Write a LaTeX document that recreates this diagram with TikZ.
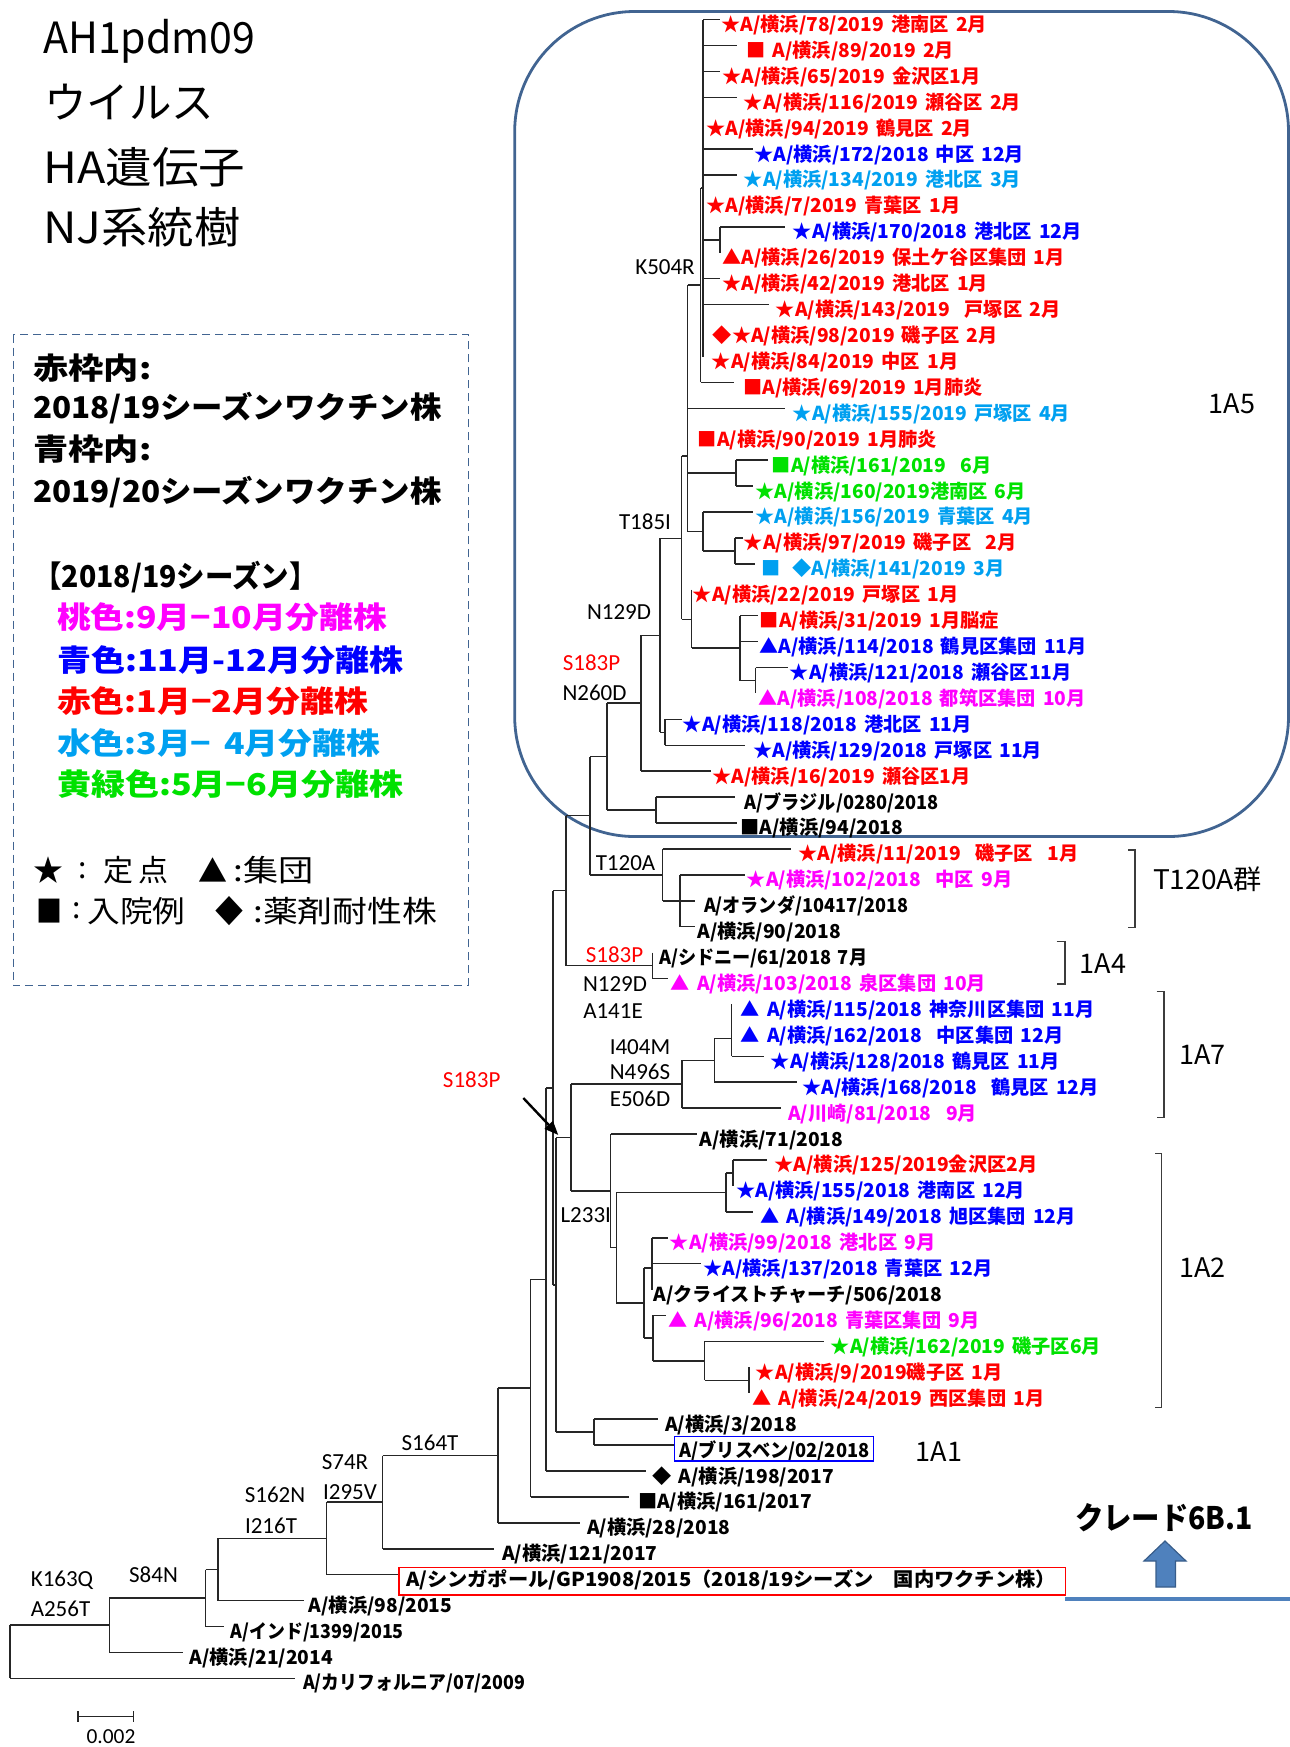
\documentclass[tikz,border=0pt]{standalone}
\usepackage{fontspec}
\usepackage{graphicx}
\usetikzlibrary{arrows.meta}
\newfontfamily\jp{Noto Sans CJK JP}
\newfontfamily\jpl[WordSpace=1.65]{Noto Sans CJK JP}
\newfontfamily\carl{Carlito}
\newlength\px \setlength\px{0.5pt}
\definecolor{cred}{RGB}{255,0,0}
\definecolor{cblue}{RGB}{0,0,255}
\definecolor{clb}{RGB}{0,160,240}
\definecolor{cmag}{RGB}{255,0,255}
\definecolor{cgrn}{RGB}{0,225,0}
\definecolor{cblk}{RGB}{0,0,0}
\definecolor{boxc}{RGB}{65,100,145}
\definecolor{brkc}{RGB}{60,60,60}
\definecolor{arrf}{RGB}{79,129,189}
\definecolor{arrd}{RGB}{56,93,138}
\tikzset{
  tb/.style={line width=0.75pt, draw=black!85},
  leaf/.style={font=\jpl\bfseries\fontsize{9.6pt}{10pt}\selectfont, anchor=west, inner sep=0pt},
  mut/.style={font=\carl\fontsize{11.5pt}{12pt}\selectfont, inner sep=0pt},
  clade/.style={font=\jp\fontsize{13.5pt}{14pt}\selectfont, inner sep=0pt},
  ttl/.style={font=\jp\fontsize{21.5pt}{22pt}\selectfont, inner sep=0pt, anchor=west},
  lg/.style={font=\jp\bfseries\fontsize{15pt}{16pt}\selectfont, inner sep=0pt, anchor=west},
  lgr/.style={font=\jp\fontsize{15pt}{16pt}\selectfont, inner sep=0pt, anchor=west},
  brk/.style={line width=0.7pt, draw=brkc}
}
\newcommand\Yr[1]{(19.5+(#1-1)*25.92)}
\newcommand\hb[3]{\draw[tb] (#2,{\Yr{#1}}) -- (#3,{\Yr{#1}});}
\newcommand\lf[4]{\node[leaf,text=#3] (l#1) at (#2,{\Yr{#1}+5.5}) {#4};}
\newcommand\fw[2]{\resizebox{#1\px}{\height}{#2}}
\begin{document}
\begin{tikzpicture}[x=0.5pt,y=-0.5pt]
\useasboundingbox (0,0) rectangle (1290,1747);
% ---------- title
\node[ttl] (t1) at (43,41.5) {\fw{212}{AH1pdm09}};
\node[ttl] (t2) at (44,102) {\fw{170}{ウイルス}};
\node[ttl] (t3) at (43,167) {\fw{202}{HA遺伝子}};
\node[ttl] (t4) at (43,227) {\fw{197}{NJ系統樹}};
% ---------- legend
\draw[boxc, dashed, dash pattern=on 4pt off 2.5pt, line width=0.75pt] (13.4,334.5) rectangle (468.3,985.5);
\node[lg] (g1) at (33,368) {\fw{118}{赤枠内:}};
\node[lg] (g2) at (33,408) {\fw{408}{2018/19シーズンワクチン株}};
\node[lg] (g3) at (33,449.6) {\fw{118}{青枠内:}};
\node[lg] (g4) at (33,492) {\fw{408}{2019/20シーズンワクチン株}};
\node[lg] (g5) at (33,577) {\fw{284}{【2018/19シーズン】}};
\node[lg,text=cmag] (g6) at (56.7,617) {\fw{330}{桃色:9月−10月分離株}};
\node[lg,text=cblue] (g7) at (56.7,660) {\fw{346}{青色:11月-12月分離株}};
\node[lg,text=cred] (g8) at (56.7,701.5) {\fw{311}{赤色:1月−2月分離株}};
\node[lg,text=clb] (g9) at (56.7,743) {\fw{323}{水色:3月− 4月分離株}};
\node[lg,text=cgrn] (g10) at (56.7,784.4) {\fw{346}{黄緑色:5月−6月分離株}};
\node[lgr] (s1) at (33,870.5) {\fw{30}{★}};
\node[lgr] (s2) at (78,870.5) {:};
\node[lgr] (s3) at (103,870.5) {\fw{65}{定\,点}};
\node[lgr] (s4) at (198,870.5) {\fw{29}{▲}};
\node[lgr] (s5) at (233,870.5) {\fw{80}{:集団}};
\node[lgr] (s6) at (36,910.7) {\fw{26}{■}};
\node[lgr] (s7) at (72,910.7) {:};
\node[lgr] (s8) at (87,910.7) {\fw{98}{入院例}};
\node[lgr] (s9) at (215,910.7) {\fw{28}{◆}};
\node[lgr] (s10) at (253,910.7) {\fw{184}{:薬剤耐性株}};
% ---------- 1A5 box
\draw[boxc, line width=1.4pt, rounded corners=60pt] (514.7,11.5) rectangle (1288.5,836.5);
% ---------- tree: clade A
\draw[tb] (703,19.5) -- (703,356.5);
\draw[tb] (700.5,188) -- (700.5,382.4);
\draw[tb] (700.5,188) -- (703,188);
\draw[tb] (687.5,285) -- (700.5,285);
\hb{1}{703}{720} \hb{2}{703}{737} \hb{3}{703}{720} \hb{4}{703}{737}
\hb{6}{703}{753} \hb{7}{703}{737}
\draw[tb] (703,239.85) -- (720,239.85); \draw[tb] (720,226.9) -- (720,252.8); \hb{9}{720}{785}
\hb{11}{703}{720} \hb{12}{703}{769} \hb{15}{700.5}{734}
% B
\draw[tb] (687.5,285) -- (687.5,531.7);
\hb{16}{687.5}{785}
\draw[tb] (687.5,473.1) -- (736,473.1); \draw[tb] (736,460.1) -- (736,486.1);
\hb{18}{736}{768} \hb{19}{736}{753}
\draw[tb] (687.5,531.7) -- (703,531.7); \draw[tb] (703,512) -- (703,550.9); \hb{20}{703}{753}
\draw[tb] (703,550.9) -- (735,550.9); \draw[tb] (735,537.9) -- (735,563.8);
\hb{21}{735}{743} \hb{22}{735}{754.6}
% C
\draw[tb] (681.7,456) -- (687.5,456); \draw[tb] (681.7,456) -- (681.7,619.3);
\draw[tb] (681.7,619.3) -- (691.7,619.3); \draw[tb] (691.7,589.7) -- (691.7,648);
\draw[tb] (691.7,648) -- (740,648); \draw[tb] (740,615.6) -- (740,680.5);
\hb{24}{740}{758} \hb{25}{740}{758}
\draw[tb] (740,680.5) -- (755.6,680.5); \draw[tb] (755.6,667.5) -- (755.6,693.4); \hb{26}{755.6}{788}
% N660
\draw[tb] (660,538.3) -- (681.7,538.3); \draw[tb] (660,538.3) -- (660,732.3);
\draw[tb] (660,732.3) -- (665,732.3); \draw[tb] (665,719.3) -- (665,745.2);
\hb{28}{665}{682} \hb{29}{665}{745}
\draw[tb] (640.8,635.3) -- (660,635.3); \draw[tb] (640.8,635.3) -- (640.8,771.2); \hb{30}{640.8}{710.5}
\draw[tb] (607,703.2) -- (640.8,703.2); \draw[tb] (607,703.2) -- (607,810.1);
\draw[tb] (607,810.1) -- (655.8,810.1); \draw[tb] (655.8,797.1) -- (655.8,823);
\hb{31}{655.8}{735} \hb{32}{655.8}{737}
\draw[tb] (590,756.6) -- (607,756.6); \draw[tb] (590,756.6) -- (590,874.8);
\draw[tb] (590,874.8) -- (662.6,874.8); \draw[tb] (662.6,848.9) -- (662.6,900.75); \hb{33}{662.6}{790.8}
\draw[tb] (662.6,900.75) -- (680,900.75); \draw[tb] (680,874.8) -- (680,926.7);
\hb{34}{680}{745} \hb{35}{680}{695} \hb{36}{680}{695}
\draw[tb] (566,815.7) -- (590,815.7); \draw[tb] (566,815.7) -- (566,965.55);
\draw[tb] (566,965.55) -- (652.3,965.55); \draw[tb] (652.3,952.6) -- (652.3,978.5); \hb{38}{652.3}{668.4}
\draw[tb] (553,890.6) -- (566,890.6); \draw[tb] (553,890.6) -- (553,1285);
\draw[tb] (556,1137.5) -- (556,1432.05); \draw[tb] (553,1285) -- (556,1285);
\draw[tb] (556,1137.5) -- (570.8,1137.5); \draw[tb] (570.8,1084.2) -- (570.8,1190.9);
% 1A7
\draw[tb] (570.8,1084.2) -- (681.8,1084.2); \draw[tb] (681.8,1060.25) -- (681.8,1108.1); \hb{43}{681.8}{781.3}
\draw[tb] (681.8,1060.25) -- (714.3,1060.25); \draw[tb] (714.3,1038.3) -- (714.3,1082.2); \hb{42}{714.3}{796.6}
\draw[tb] (714.3,1038.3) -- (731.5,1038.3); \draw[tb] (731.5,1004.4) -- (731.5,1056.3); \hb{41}{731.5}{764}
% 1A2
\draw[tb] (570.8,1190.9) -- (610.5,1190.9); \draw[tb] (610.5,1134) -- (610.5,1247.7); \hb{44}{610.5}{696.7}
\draw[tb] (610.5,1247.7) -- (616.4,1247.7); \draw[tb] (616.4,1192.3) -- (616.4,1303);
\draw[tb] (616.4,1192.3) -- (726,1192.3); \draw[tb] (726,1172.85) -- (726,1211.8); \hb{47}{726}{752.8}
\draw[tb] (726,1172.85) -- (733,1172.85); \draw[tb] (733,1159.9) -- (733,1185.8); \hb{45}{733}{766.7}
\draw[tb] (616.4,1303) -- (644,1303); \draw[tb] (644,1268) -- (644,1338.1);
\draw[tb] (644,1268) -- (652,1268); \draw[tb] (652,1237.7) -- (652,1289.5);
\hb{48}{652}{667.8} \hb{49}{652}{700.6}
\draw[tb] (644,1338.1) -- (652.8,1338.1); \draw[tb] (652.8,1315.4) -- (652.8,1360.8); \hb{51}{652.8}{665.8}
\draw[tb] (652.8,1360.8) -- (704.6,1360.8); \draw[tb] (704.6,1341.4) -- (704.6,1380.25); \hb{52}{704.6}{824}
\draw[tb] (704.6,1380.25) -- (748.9,1380.25); \draw[tb] (748.9,1367.3) -- (748.9,1393.2);
% 1A1
\draw[tb] (556,1432.05) -- (594,1432.05); \draw[tb] (594,1419.1) -- (594,1445);
\hb{55}{594}{658} \hb{56}{594}{674.6}
% backbone
\draw[tb] (546,1087.8) -- (553,1087.8); \draw[tb] (546,1087.8) -- (546,1471); \hb{57}{546}{645.8}
\draw[tb] (530.7,1279.4) -- (546,1279.4); \draw[tb] (530.7,1279.4) -- (530.7,1496.9); \hb{58}{530.7}{629.4}
\draw[tb] (498,1388.2) -- (530.7,1388.2); \draw[tb] (498,1388.2) -- (498,1522.8); \hb{59}{498}{580}
\draw[tb] (382.6,1455.5) -- (498,1455.5); \draw[tb] (382.6,1455.5) -- (382.6,1548.7); \hb{60}{382.6}{493.6}
\draw[tb] (326.6,1502.1) -- (382.6,1502.1); \draw[tb] (326.6,1502.1) -- (326.6,1574.6); \hb{61}{326.6}{399}
\draw[tb] (218,1538.4) -- (326.6,1538.4); \draw[tb] (218,1538.4) -- (218,1600.6); \hb{62}{218}{304.4}
\draw[tb] (205.7,1569.5) -- (218,1569.5); \draw[tb] (205.7,1569.5) -- (205.7,1626.5); \hb{63}{205.7}{223.8}
\draw[tb] (109.4,1598) -- (205.7,1598); \draw[tb] (109.4,1598) -- (109.4,1652.4); \hb{64}{109.4}{182.6}
\draw[tb] (9.9,1625.2) -- (109.4,1625.2); \draw[tb] (9.9,1625.2) -- (9.9,1678.3); \hb{65}{9.9}{294.5}
% ---------- leaf labels
\lf{1}{721}{cred}{★A/横浜/78/2019 港南区 2月}
\lf{2}{745.7}{cred}{■ A/横浜/89/2019 2月}
\lf{3}{722}{cred}{★A/横浜/65/2019 金沢区1月}
\lf{4}{743.5}{cred}{★A/横浜/116/2019 瀬谷区 2月}
\lf{5}{706}{cred}{★A/横浜/94/2019 鶴見区 2月}
\lf{6}{754}{cblue}{★A/横浜/172/2018 中区 12月}
\lf{7}{743.5}{clb}{★A/横浜/134/2019 港北区 3月}
\lf{8}{706}{cred}{★A/横浜/7/2019 青葉区 1月}
\lf{9}{792.5}{cblue}{★A/横浜/170/2018 港北区 12月}
\lf{10}{722}{cred}{▲A/横浜/26/2019 保土ケ谷区集団 1月}
\lf{11}{722}{cred}{★A/横浜/42/2019 港北区 1月}
\lf{12}{775.5}{cred}{★A/横浜/143/2019 \ 戸塚区 2月}
\lf{13}{712.5}{cred}{◆★A/横浜/98/2019 磯子区 2月}
\lf{14}{711.5}{cred}{★A/横浜/84/2019 中区 1月}
\lf{15}{742.9}{cred}{■A/横浜/69/2019 1月肺炎}
\lf{16}{792.5}{clb}{★A/横浜/155/2019 戸塚区 4月}
\lf{17}{697.5}{cred}{■A/横浜/90/2019 1月肺炎}
\lf{18}{771.4}{cgrn}{■A/横浜/161/2019 \ 6月}
\lf{19}{755.3}{cgrn}{★A/横浜/160/2019港南区 6月}
\lf{20}{755.3}{clb}{★A/横浜/156/2019 青葉区 4月}
\lf{21}{743.5}{cred}{★A/横浜/97/2019 磯子区 \ 2月}
\lf{22}{760.7}{clb}{■\hspace{6pt}◆A/横浜/141/2019 3月}
\lf{23}{692.5}{cred}{★A/横浜/22/2019 戸塚区 1月}
\lf{24}{759.5}{cred}{■A/横浜/31/2019 1月脳症}
\lf{25}{759}{cblue}{▲A/横浜/114/2018 鶴見区集団 11月}
\lf{26}{789.5}{cblue}{★A/横浜/121/2018 瀬谷区11月}
\lf{27}{758}{cmag}{▲A/横浜/108/2018 都筑区集団 10月}
\lf{28}{682.5}{cblue}{★A/横浜/118/2018 港北区 11月}
\lf{29}{752.8}{cblue}{★A/横浜/129/2018 戸塚区 11月}
\lf{30}{712}{cred}{★A/横浜/16/2019 瀬谷区1月}
\lf{31}{744.2}{cblk}{\fw{194}{A/ブラジル/0280/2018}}
\lf{32}{740.3}{cblk}{■A/横浜/94/2018}
\lf{33}{798}{cred}{★A/横浜/11/2019 \ 磯子区 \ 1月}
\lf{34}{746.5}{cmag}{★A/横浜/102/2018 \ 中区 9月}
\lf{35}{703.6}{cblk}{\fw{204}{A/オランダ/10417/2018}}
\lf{36}{697}{cblk}{A/横浜/90/2018}
\lf{37}{658.8}{cblk}{\fw{208}{A/シドニー/61/2018 7月}}
\lf{38}{670.3}{cmag}{▲ A/横浜/103/2018 泉区集団 10月}
\lf{39}{740.3}{cblue}{▲ A/横浜/115/2018 神奈川区集団 11月}
\lf{40}{740.3}{cblue}{▲ A/横浜/162/2018 \ 中区集団 12月}
\lf{41}{770.5}{cblue}{★A/横浜/128/2018 鶴見区 11月}
\lf{42}{802}{cblue}{★A/横浜/168/2018 \ 鶴見区 12月}
\lf{43}{787.8}{cmag}{A/川崎/81/2018 \ 9月}
\lf{44}{699.5}{cblk}{A/横浜/71/2018}
\lf{45}{774.2}{cred}{★A/横浜/125/2019金沢区2月}
\lf{46}{735.8}{cblue}{★A/横浜/155/2018 港南区 12月}
\lf{47}{760}{cblue}{▲ A/横浜/149/2018 旭区集団 12月}
\lf{48}{669.5}{cmag}{★A/横浜/99/2018 港北区 9月}
\lf{49}{703}{cblue}{★A/横浜/137/2018 青葉区 12月}
\lf{50}{653.2}{cblk}{A/クライストチャーチ/506/2018}
\lf{51}{667.8}{cmag}{▲ A/横浜/96/2018 青葉区集団 9月}
\lf{52}{830.5}{cgrn}{★A/横浜/162/2019 磯子区6月}
\lf{53}{755.5}{cred}{★A/横浜/9/2019磯子区 1月}
\lf{54}{752}{cred}{▲ A/横浜/24/2019 西区集団 1月}
\lf{55}{664.8}{cblk}{A/横浜/3/2018}
\lf{56}{679}{cblk}{\fw{190}{A/ブリスベン/02/2018}}
\lf{57}{652}{cblk}{◆ A/横浜/198/2017}
\lf{58}{637.6}{cblk}{■A/横浜/161/2017}
\lf{59}{586.6}{cblk}{A/横浜/28/2018}
\lf{60}{501.9}{cblk}{A/横浜/121/2017}
\lf{61}{405.6}{cblk}{\fw{650}{A/シンガポール/GP1908/2015（2018/19シーズン　国内ワクチン株）}}
\lf{62}{308.5}{cblk}{A/横浜/98/2015}
\lf{63}{230.4}{cblk}{\fw{173}{A/インド/1399/2015}}
\lf{64}{189.2}{cblk}{A/横浜/21/2014}
\lf{65}{302.8}{cblk}{\fw{222}{A/カリフォルニア/07/2009}}
% label boxes
\draw[cblue, line width=0.75pt] (674.6,1436.7) rectangle (873.7,1461);
\draw[cred, line width=0.75pt] (399,1567.3) rectangle (1065.4,1595);
% ---------- mutation labels
\node[mut] (m1) at (665,267) {K504R};
\node[mut] (m2) at (645,522) {T185I};
\node[mut] (m3) at (619,612) {N129D};
\node[mut,text=cred] (m4) at (591.5,663) {S183P};
\node[mut] (m5) at (594.5,693) {N260D};
\node[mut] (m6) at (625.5,863) {T120A};
\node[mut,text=cred] (m7) at (614.5,955) {S183P};
\node[mut] (m8) at (615,984) {N129D};
\node[mut] (m9) at (613,1010.7) {A141E};
\node[mut] (m10) at (640,1046.7) {I404M};
\node[mut] (m11) at (640,1072) {N496S};
\node[mut] (m12) at (640,1099) {E506D};
\node[mut,text=cred] (m13) at (471.7,1080) {S183P};
\node[mut] (m14) at (585.8,1215) {L233I};
\node[mut] (m15) at (430,1443) {S164T};
\node[mut] (m16) at (345,1462) {S74R};
\node[mut] (m17) at (350,1492) {I295V};
\node[mut] (m18) at (275,1494.5) {S162N};
\node[mut] (m19) at (271,1525.5) {I216T};
\node[mut] (m20) at (153.5,1574.5) {S84N};
\node[mut] (m21) at (62,1580) {K163Q};
\node[mut] (m22) at (60.5,1609) {A256T};
% arrow to S183P node
\coordinate (arS) at (523.3,1098);
\coordinate (arE) at (558.3,1135);
\draw[line width=1.2pt, -{Triangle[length=7pt,width=5.5pt]}] (arS) -- (arE);
% ---------- clade brackets
\draw[brk] (1128,849.9) -- (1135,849.9) -- (1135,927.2) -- (1128,927.2);
\draw[brk] (1056.7,941.7) -- (1065,941.7) -- (1065,983.8) -- (1056.7,983.8);
\draw[brk] (1156.7,991.5) -- (1164,991.5) -- (1164,1117.7) -- (1156.7,1117.7);
\draw[brk] (1155,1153.7) -- (1161.7,1153.7) -- (1161.7,1407.4) -- (1155,1407.4);
\node[clade] (c5) at (1232,404) {1A5};
\node[clade] (c120) at (1207.5,879) {\fw{109}{T120A群}};
\node[clade] (c4) at (1103,963.5) {1A4};
\node[clade] (c7) at (1202.5,1055) {1A7};
\node[clade] (c2) at (1202.5,1268) {1A2};
\node[clade] (c1) at (939,1452) {1A1};
% ---------- clade 6B.1
\node[font=\jp\bfseries\fontsize{15.5pt}{16pt}\selectfont, inner sep=0pt] (k6) at (1164,1518) {\fw{178}{クレード6B.1}};
\draw[arrd, fill=arrf, line width=0.6pt] (1156,1587) -- (1156,1561) -- (1144,1561) -- (1165,1541) -- (1186,1561) -- (1175.5,1561) -- (1175.5,1587) -- cycle;
\draw[arrf, line width=1.6pt] (1065.4,1599) -- (1290,1599);
% ---------- scale bar
\draw[tb] (78.2,1716.7) -- (133.3,1716.7);
\draw[tb] (78.2,1711) -- (78.2,1722.4);
\draw[tb] (133.3,1711) -- (133.3,1722.4);
\node[font=\carl\fontsize{10.7pt}{11pt}\selectfont, inner sep=0pt] (sb) at (111,1736.5) {0.002};
\end{tikzpicture}
\end{document}
